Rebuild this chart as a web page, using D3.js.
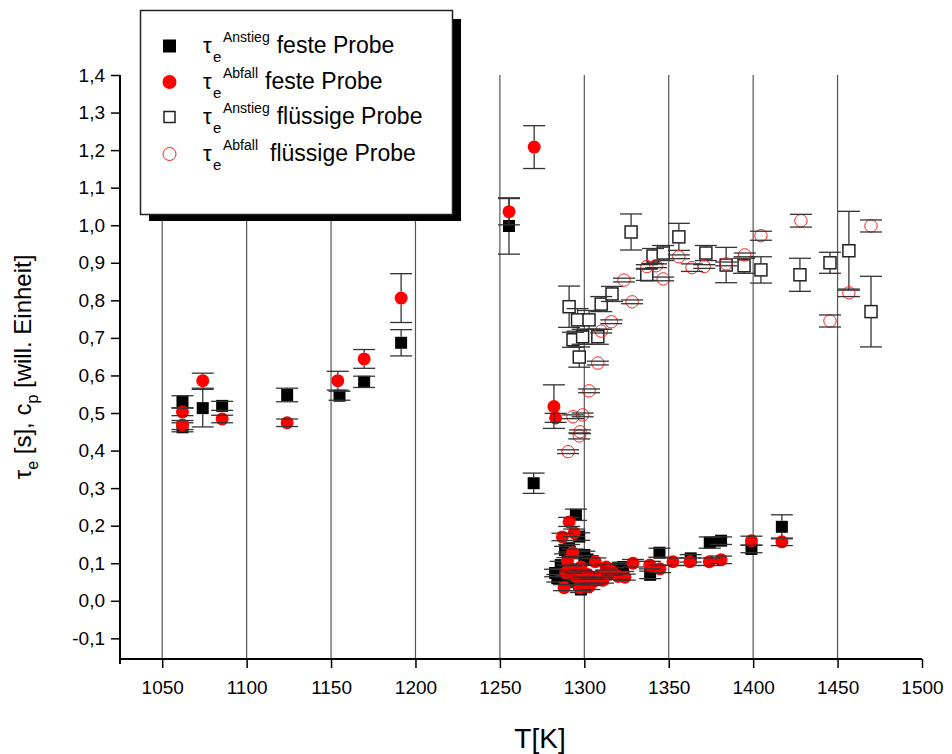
<!DOCTYPE html>
<html>
<head>
<meta charset="utf-8">
<script src="https://cdn.jsdelivr.net/npm/d3@7"></script>
<style>
  body { margin: 0; background: #fff; }
  text { font-family: "Liberation Sans", Arial, sans-serif; fill: #000; }
</style>
</head>
<body>
<svg width="952" height="754"></svg>
<script>
// [T in K, value, y error]
const solidRise = [
  [1062, 0.530, 0.016], [1062, 0.462, 0.012], [1074, 0.513, 0.050], [1085.5, 0.519, 0.012],
  [1124, 0.548, 0.018], [1155, 0.546, 0.012], [1169.6, 0.583, 0.015], [1191.5, 0.687, 0.035],
  [1255.4, 0.998, 0.075], [1270, 0.313, 0.027], [1295, 0.229, 0.015], [1297, 0.171, 0.010],
  [1288.6, 0.135, 0.010], [1300, 0.122, 0.010], [1282.7, 0.074, 0.010], [1286, 0.095, 0.010],
  [1290, 0.060, 0.010], [1293, 0.050, 0.010], [1297, 0.045, 0.010], [1300, 0.065, 0.010],
  [1304, 0.060, 0.010], [1308, 0.055, 0.010], [1313, 0.070, 0.010], [1320, 0.088, 0.010],
  [1323, 0.090, 0.012], [1339, 0.069, 0.010], [1344.5, 0.128, 0.012], [1363, 0.113, 0.010],
  [1374.3, 0.155, 0.015], [1381, 0.160, 0.010], [1399, 0.138, 0.010], [1417, 0.197, 0.032],
  [1298, 0.030, 0.008], [1284, 0.060, 0.010], [1291, 0.140, 0.010], [1302, 0.110, 0.010]
];
const solidFall = [
  [1062, 0.503, 0.010], [1062, 0.468, 0.012], [1074, 0.586, 0.020], [1085.5, 0.484, 0.010],
  [1124, 0.474, 0.010], [1154, 0.586, 0.025], [1169.6, 0.644, 0.025], [1191.5, 0.806, 0.065],
  [1255.4, 1.036, 0.035], [1270.3, 1.208, 0.057], [1282, 0.517, 0.058], [1283, 0.487, 0.012],
  [1291, 0.210, 0.012], [1294, 0.181, 0.010], [1287, 0.170, 0.010], [1293, 0.128, 0.010],
  [1290, 0.105, 0.010], [1306.5, 0.104, 0.010], [1316.6, 0.078, 0.010], [1288, 0.035, 0.008],
  [1297.5, 0.035, 0.008], [1303, 0.038, 0.008], [1289, 0.075, 0.008], [1292, 0.085, 0.008],
  [1295, 0.065, 0.008], [1298, 0.090, 0.008], [1300, 0.055, 0.008], [1302, 0.070, 0.008],
  [1305, 0.050, 0.008], [1309, 0.065, 0.008], [1311, 0.055, 0.008], [1313, 0.090, 0.008],
  [1320, 0.065, 0.008], [1324, 0.063, 0.008], [1328.8, 0.100, 0.010], [1338.8, 0.095, 0.010],
  [1344.8, 0.085, 0.010], [1352.5, 0.104, 0.010], [1362.5, 0.104, 0.010], [1374, 0.104, 0.010],
  [1381, 0.109, 0.010], [1399, 0.160, 0.012], [1417, 0.157, 0.010]
];
const liquidRise = [
  [1291, 0.783, 0.055], [1293.3, 0.695, 0.020], [1296, 0.748, 0.030], [1297, 0.649, 0.027],
  [1299, 0.703, 0.020], [1302.8, 0.748, 0.025], [1308, 0.703, 0.020], [1310, 0.790, 0.020],
  [1316.4, 0.817, 0.020], [1327.7, 0.982, 0.048], [1337, 0.868, 0.015], [1340.7, 0.918, 0.020],
  [1346.7, 0.926, 0.020], [1356, 0.969, 0.036], [1372, 0.926, 0.020], [1384, 0.894, 0.047],
  [1394.6, 0.892, 0.020], [1404.6, 0.881, 0.035], [1427.7, 0.868, 0.044], [1445.5, 0.900, 0.028],
  [1456.7, 0.932, 0.105], [1469.8, 0.770, 0.094]
];
const liquidFall = [
  [1290.4, 0.397, 0.005], [1297, 0.439, 0.008], [1297.5, 0.450, 0.005], [1293.3, 0.490, 0.005],
  [1299, 0.495, 0.005], [1302.8, 0.559, 0.005], [1308, 0.633, 0.005], [1310, 0.718, 0.005],
  [1316, 0.743, 0.005], [1323.5, 0.854, 0.005], [1328.3, 0.796, 0.005], [1337, 0.890, 0.005],
  [1342.5, 0.892, 0.005], [1346.7, 0.857, 0.005], [1356, 0.916, 0.005], [1363.8, 0.887, 0.010],
  [1371, 0.890, 0.005], [1384, 0.897, 0.005], [1395, 0.921, 0.005], [1404.6, 0.972, 0.012],
  [1428.3, 1.012, 0.017], [1445.5, 0.745, 0.016], [1456.7, 0.820, 0.010], [1469.8, 0.998, 0.016]
];

const xTicks = [1050, 1100, 1150, 1200, 1250, 1300, 1350, 1400, 1450, 1500];
const yTicks = [-0.1, 0, 0.1, 0.2, 0.3, 0.4, 0.5, 0.6, 0.7, 0.8, 0.9, 1.0, 1.1, 1.2, 1.3, 1.4];
const legendLabels = [
  { sup: 'Anstieg', text: 'feste Probe' },
  { sup: 'Abfall', text: 'feste Probe' },
  { sup: 'Anstieg', text: 'flüssige Probe' },
  { sup: 'Abfall', text: 'flüssige Probe' }
];

const svg = d3.select('svg');

const x = d3.scaleLinear().domain([1025, 1500]).range([120, 922]);
const y = d3.scaleLinear().domain([-0.155, 1.4]).range([659, 75]);

// vertical grid
svg.append('g').selectAll('line')
  .data(xTicks.filter(t => t < 1500))
  .enter().append('line')
    .attr('x1', d => x(d)).attr('x2', d => x(d))
    .attr('y1', y(1.4)).attr('y2', y(-0.155))
    .attr('stroke', '#555').attr('stroke-width', 1.2);

const fmt = d => d3.format('.1f')(d).replace('.', ',').replace('−', '-');

// x axis
const xAxisG = svg.append('g').attr('transform', `translate(0,${y(-0.155)})`);
xAxisG.call(d3.axisBottom(x).tickValues(d3.range(1030, 1501, 10)).tickSize(4).tickFormat(''));
xAxisG.call(d3.axisBottom(x).tickValues(xTicks).tickSize(9).tickPadding(13).tickFormat(d3.format('d')));
xAxisG.selectAll('path.domain').attr('stroke-width', 2).attr('d', `M${x(1025)},0H${x(1500)}`);
xAxisG.selectAll('line').attr('stroke', '#000').attr('stroke-width', 1.5);
xAxisG.selectAll('text').attr('font-size', 19).attr('font-family', '"Liberation Sans", Arial, sans-serif');

// y axis
const yAxisG = svg.append('g').attr('transform', `translate(${x(1025)},0)`);
yAxisG.call(d3.axisLeft(y).tickValues(d3.range(-0.15, 1.41, 0.05)).tickSize(4).tickFormat(''));
yAxisG.call(d3.axisLeft(y).tickValues(yTicks).tickSize(9).tickPadding(6).tickFormat(fmt));
yAxisG.selectAll('path.domain').attr('stroke-width', 2).attr('d', `M0,${y(1.4)}V${y(-0.155) + 5}`);
yAxisG.selectAll('line').attr('stroke', '#000').attr('stroke-width', 1.5);
yAxisG.selectAll('text').attr('font-size', 19).attr('font-family', '"Liberation Sans", Arial, sans-serif');

// axis titles
svg.append('text')
  .attr('x', 540).attr('y', 748)
  .attr('text-anchor', 'middle').attr('font-size', 28)
  .text('T[K]');

const yTitle = svg.append('text')
  .attr('transform', 'translate(31,367) rotate(-90)')
  .attr('text-anchor', 'middle').attr('font-size', 24);
yTitle.append('tspan').text('τ');
yTitle.append('tspan').attr('font-size', 16).attr('dy', 7).text('e');
yTitle.append('tspan').attr('dy', -7).text(' [s], c');
yTitle.append('tspan').attr('font-size', 16).attr('dy', 7).text('p');
yTitle.append('tspan').attr('dy', -7).text(' [will. Einheit]');

// markers
const plot = svg.append('g');
const r = 6.5;
const capW = 11;

function errorBars(data, half) {
  const g = plot.append('g').attr('stroke', '#333').attr('stroke-width', 1.3);
  data.forEach(([t, v, e]) => {
    const cx = x(t), top = y(v + e), bot = y(v - e), cy = y(v);
    if (cy - top > half) {
      g.append('line').attr('x1', cx).attr('x2', cx).attr('y1', top).attr('y2', cy - half);
      g.append('line').attr('x1', cx).attr('x2', cx).attr('y1', cy + half).attr('y2', bot);
    }
    g.append('line').attr('x1', cx - capW).attr('x2', cx + capW).attr('y1', top).attr('y2', top);
    g.append('line').attr('x1', cx - capW).attr('x2', cx + capW).attr('y1', bot).attr('y2', bot);
  });
}

function squares(data, filled) {
  plot.append('g').selectAll('rect').data(data).enter().append('rect')
    .attr('x', d => x(d[0]) - 6).attr('y', d => y(d[1]) - 6)
    .attr('width', 12).attr('height', 12)
    .attr('fill', filled ? '#000' : '#fff')
    .attr('stroke', filled ? 'none' : '#222')
    .attr('stroke-width', 1.5);
}

function circles(data, filled) {
  plot.append('g').selectAll('circle').data(data).enter().append('circle')
    .attr('cx', d => x(d[0])).attr('cy', d => y(d[1]))
    .attr('r', filled ? r : 6.2)
    .attr('fill', filled ? '#ff0000' : 'none')
    .attr('stroke', filled ? 'none' : '#ff2020')
    .attr('stroke-width', 1);
}

squares(solidRise, true);  errorBars(solidRise, 6);
circles(solidFall, true);  errorBars(solidFall, r);
squares(liquidRise, false); errorBars(liquidRise, 6);
circles(liquidFall, false); errorBars(liquidFall, 6.2);

// legend
const lg = svg.append('g');
lg.append('rect').attr('x', 149).attr('y', 19).attr('width', 312).attr('height', 202).attr('fill', '#000');
lg.append('rect').attr('x', 140.5).attr('y', 10.5).attr('width', 312).attr('height', 204)
  .attr('fill', '#fff').attr('stroke', '#222').attr('stroke-width', 1.5);

const rowY = [53, 89, 124, 161];
legendLabels.forEach((d, i) => {
  const by = rowY[i];
  const cy = by - 7;
  if (i === 0) lg.append('rect').attr('x', 163).attr('y', cy - 6.5).attr('width', 13).attr('height', 13).attr('fill', '#000');
  if (i === 1) lg.append('circle').attr('cx', 169.5).attr('cy', cy).attr('r', 7).attr('fill', '#ff0000');
  if (i === 2) lg.append('rect').attr('x', 164).attr('y', cy - 5.5).attr('width', 11).attr('height', 11)
    .attr('fill', '#fff').attr('stroke', '#222').attr('stroke-width', 1.5);
  if (i === 3) lg.append('circle').attr('cx', 169.5).attr('cy', cy).attr('r', 6.5)
    .attr('fill', 'none').attr('stroke', '#ff2020').attr('stroke-width', 1);

  lg.append('text').attr('x', 203).attr('y', by).attr('font-size', 22).text('τ');
  lg.append('text').attr('x', 213).attr('y', by + 9).attr('font-size', 15).text('e');
  const sup = lg.append('text').attr('x', 223).attr('y', by - 11).attr('font-size', 14).text(d.sup);
  const w = sup.node().getComputedTextLength();
  lg.append('text').attr('x', 223 + w + (i === 3 ? 12 : 7)).attr('y', by)
    .attr('font-size', 23).text(d.text);
});
</script>
</body>
</html>
